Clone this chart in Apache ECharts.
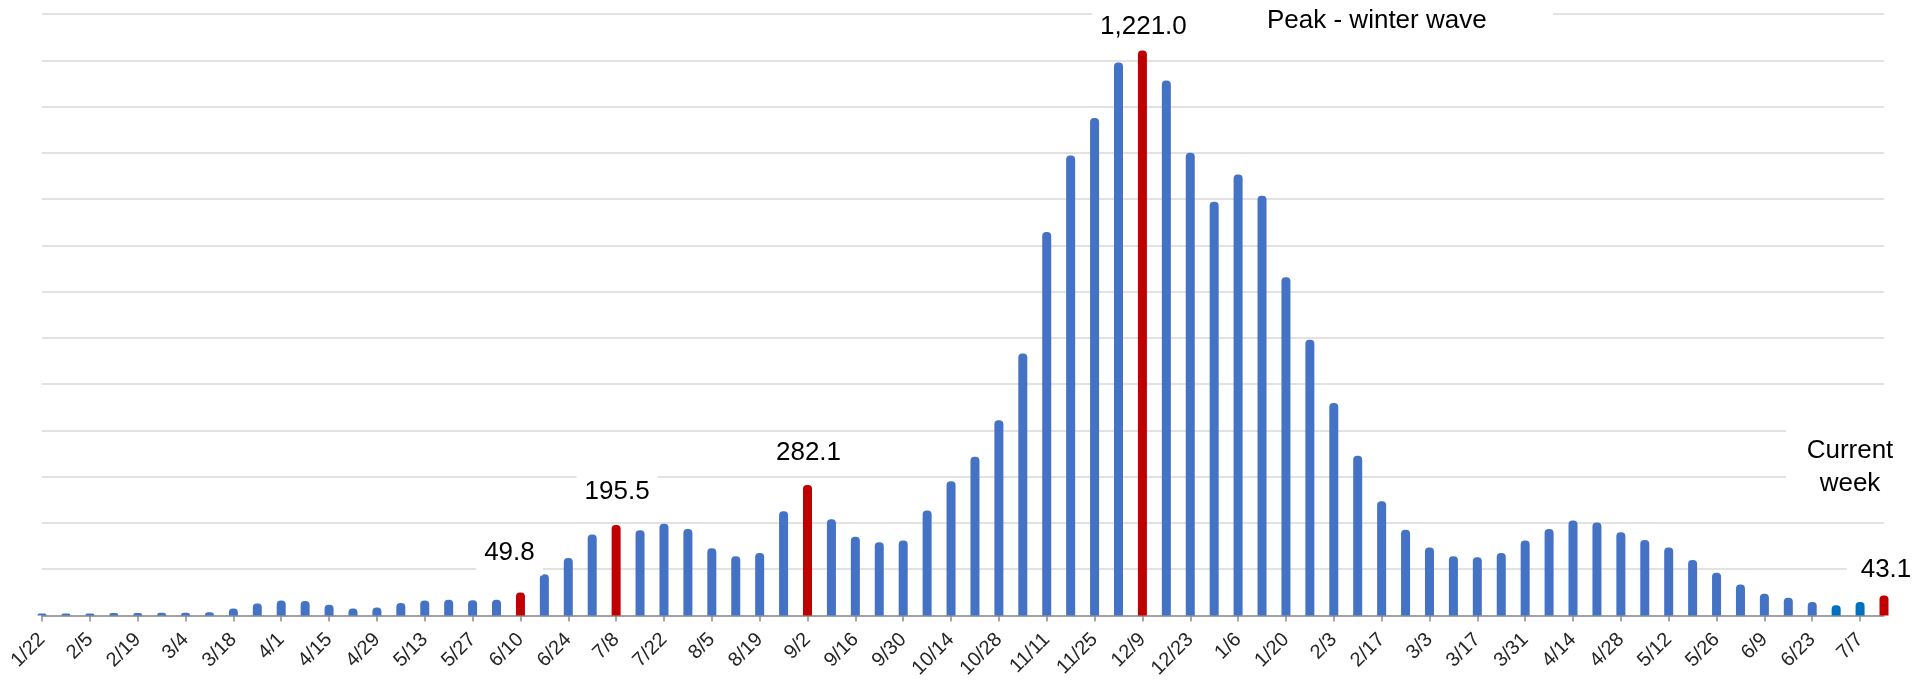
<!DOCTYPE html>
<html><head><meta charset="utf-8">
<script src="https://cdn.jsdelivr.net/npm/echarts@6/dist/echarts.min.js"></script>
<style>html,body{margin:0;padding:0;background:#fff}#c{width:1927px;height:681px}</style>
</head><body><div id="c"></div>
<script>
const categories = ['1/22','1/29','2/5','2/12','2/19','2/26','3/4','3/11','3/18','3/25','4/1','4/8','4/15','4/22','4/29','5/6','5/13','5/20','5/27','6/3','6/10','6/17','6/24','7/1','7/8','7/15','7/22','7/29','8/5','8/12','8/19','8/26','9/2','9/9','9/16','9/23','9/30','10/7','10/14','10/21','10/28','11/4','11/11','11/18','11/25','12/2','12/9','12/16','12/23','12/30','1/6','1/13','1/20','1/27','2/3','2/10','2/17','2/24','3/3','3/10','3/17','3/24','3/31','4/7','4/14','4/21','4/28','5/5','5/12','5/19','5/26','6/2','6/9','6/16','6/23','6/30','7/7','7/14'];
const values = [4,4,4,5,5,6,6,7,15,26,32,31,23,15,17,27,32,34,33,34,
  49.8,89,124,175,195.5,184,198,187,145,128,135,225,282.1,208,170,158,162,227,290,343,422,
  566,829,994,1075,1195,1221.0,1156,1000,894,953,907,731,596,
  459,345,247,185,147,128,126,135,162,187,205,201,180,163,147,120,92,67,47,38,29,22,29,43.1];
const peakWeeks = ['6/10','7/8','9/2','12/9','7/14'];
const recentWeeks = ['6/30','7/7'];
const peakNote = 'Peak - winter wave';
const currentNote = 'Current\nweek';

const FONT = '"Liberation Sans", Arial, sans-serif';
const fmt = new Intl.NumberFormat('en-US', {minimumFractionDigits: 1, maximumFractionDigits: 1});
const labelTweaks = {
  '6/10': {distance: 17, offset: [-11, 0], padding: [4, 8, 10, 8]},
  '7/8':  {distance: 16, offset: [1, 0], padding: [8, 8, 4, 8]},
  '9/2':  {distance: 15, offset: [1, 0], padding: [8, 8, 4, 8]},
  '12/9': {distance: 7,  offset: [1, 0], padding: [4, 8, 4, 8]},
  '7/14': {distance: 9,  offset: [-1, 0], padding: [4, 8, 4, 14]}
};

const data = values.map((v, i) => {
  const name = categories[i];
  const item = {value: v};
  if (peakWeeks.includes(name)) {
    const t = labelTweaks[name];
    item.itemStyle = {color: '#C00000'};
    item.label = {
      show: true, position: 'top', distance: t.distance, offset: t.offset,
      formatter: p => fmt.format(p.value),
      fontSize: 26, fontFamily: FONT, color: '#000',
      backgroundColor: '#fff', padding: t.padding
    };
  } else if (recentWeeks.includes(name)) {
    item.itemStyle = {color: '#0070C0'};
  }
  return item;
});

const chart = echarts.init(document.getElementById('c'), null, {renderer: 'canvas'});
chart.setOption({
  animation: false,
  backgroundColor: '#fff',
  grid: {left: 42, right: 43, top: 14, bottom: 64, containLabel: false},
  xAxis: {
    type: 'category', data: categories, boundaryGap: false,
    axisLine: {lineStyle: {color: '#8c8c8c', width: 1.5}},
    axisTick: {show: true, interval: 1, length: 6, lineStyle: {color: '#8c8c8c', width: 1.5}},
    axisLabel: {interval: 1, rotate: 45, margin: 21, fontSize: 20, fontFamily: FONT, color: '#262626'},
    splitLine: {show: false}
  },
  yAxis: {
    type: 'value', min: 0, max: 1300, interval: 100,
    axisLabel: {show: false}, axisLine: {show: false}, axisTick: {show: false},
    splitLine: {lineStyle: {color: '#d9d9d9', width: 1.5}}
  },
  series: [{
    type: 'bar', data: data, barWidth: 9,
    itemStyle: {color: '#4472C4', borderRadius: [4, 4, 0, 0]},
    z: 3
  }],
  graphic: [
    {type: 'rect', z: 50, shape: {x: 1190, y: 0, width: 363, height: 38}, style: {fill: '#fff'}},
    {type: 'text', z: 51, style: {x: 1267, y: 21, text: peakNote, align: 'left', verticalAlign: 'middle', font: '26px ' + FONT, fill: '#000'}},
    {type: 'rect', z: 50, shape: {x: 1786, y: 402, width: 141, height: 100}, style: {fill: '#fff'}},
    {type: 'text', z: 51, style: {x: 1850, y: 434, text: currentNote, align: 'center', verticalAlign: 'top', lineHeight: 33, font: '26px ' + FONT, fill: '#000'}}
  ]
});
</script></body></html>
